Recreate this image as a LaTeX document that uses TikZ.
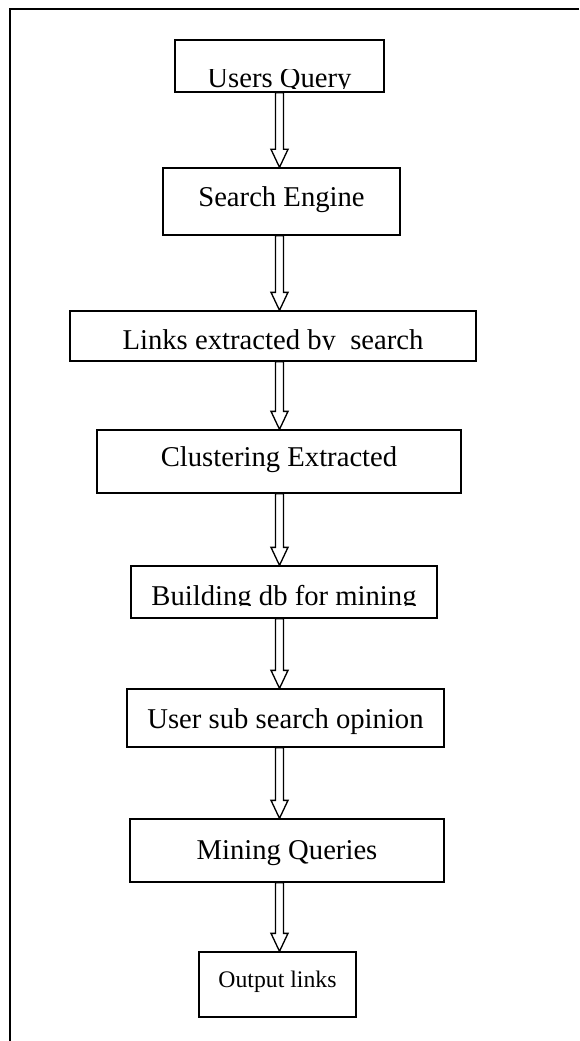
\documentclass[tikz,border=0pt]{standalone}
\usepackage{fontspec}
\setmainfont{Liberation Serif}
\usepackage{trimclip}
\usetikzlibrary{calc}

\newdimen\px
\px=0.75pt
% text whose descenders are cut off, as in the source figure
\newcommand\cutoff[1]{\clipbox{0pt {.85\depth} 0pt 0pt}{#1}}
% hollow block arrow from the bottom of #1 to the top of #2
\newcommand\hollowarrow[2]{%
  \draw[flowarrow] let \p1 = (#1.south -| axis), \p2 = (#2.north -| axis) in
    (\x1-4\px,\y1) -- (\x1-4\px,\y2+18\px) -- (\x1-8.5\px,\y2+18\px) -- (\x1,\y2)
    -- (\x1+8.5\px,\y2+18\px) -- (\x1+4\px,\y2+18\px) -- (\x1+4\px,\y1) -- cycle;}

\begin{document}
\begin{tikzpicture}
 [
  x=0.75pt, y=-0.75pt,
  box/.style       = {draw, line width=1pt, inner sep=0pt, anchor=base,
                      font=\fontsize{21.5}{24}\selectfont},
  flowarrow/.style = {draw, fill=white, line width=1pt, line join=miter},
 ]
 \useasboundingbox (0,0) rectangle (579,1041);
 \coordinate (axis) at (279.5,0);

 % frame
 \draw[line width=1pt] (579,9) -- (10,9) -- (10,1041);

 \node[box, minimum width=209\px, text height=48\px, text depth=4\px]  (query)   at (279.5,88)  {\cutoff{Users Query}};
 \node[box, minimum width=237\px, text height=39\px, text depth=28\px] (engine)  at (281.5,207) {Search Engine};
 \node[box, minimum width=406\px, text height=38\px, text depth=12\px] (links)   at (273,349)   {\cutoff{Links extracted by\ \ search}};
 \node[box, minimum width=364\px, text height=36\px, text depth=27\px] (cluster) at (279,466)   {Clustering Extracted};
 \node[box, minimum width=306\px, text height=39\px, text depth=13\px] (build)   at (284,605)   {\cutoff{Building db for mining}};
 \node[box, minimum width=317\px, text height=39\px, text depth=19\px] (opinion) at (285.5,728) {User sub search opinion};
 \node[box, minimum width=314\px, text height=40\px, text depth=23\px] (mining)  at (287,859)   {Mining Queries};
 \node[box, minimum width=157\px, text height=35\px, text depth=30\px,
       font=\fontsize{17.8}{20}\selectfont]                            (output)  at (277.5,987) {Output links};

 \foreach \a/\b in {query/engine, engine/links, links/cluster, cluster/build,
                    build/opinion, opinion/mining, mining/output}
  \hollowarrow{\a}{\b};
\end{tikzpicture}
\end{document}
